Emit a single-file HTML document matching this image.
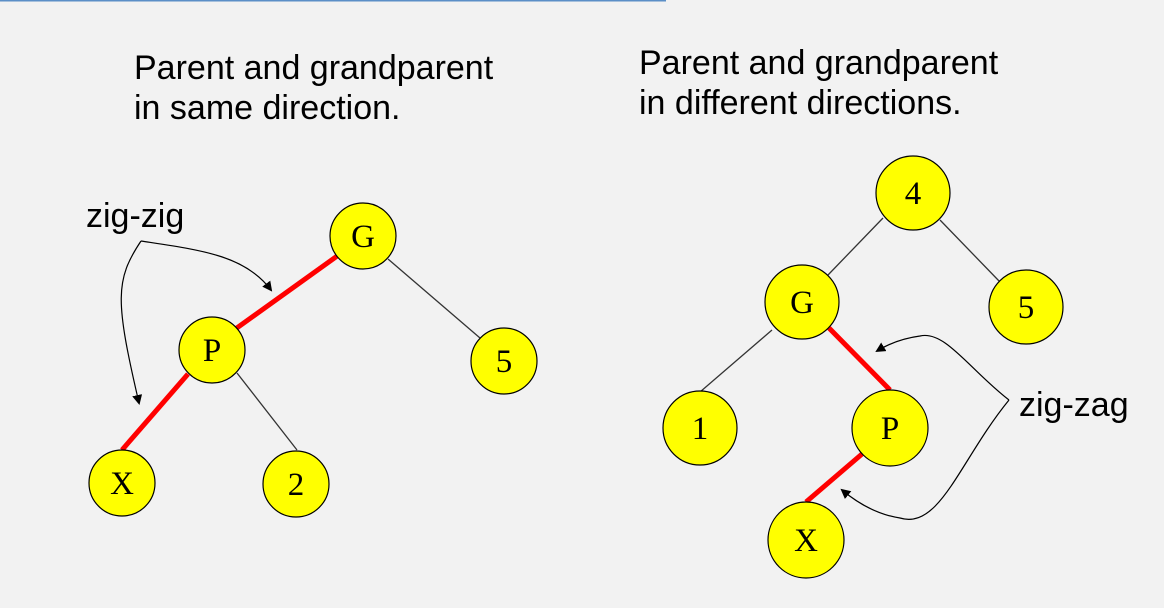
<!DOCTYPE html>
<html><head><style>
html,body{margin:0;padding:0;background:#f2f2f2;}
svg{display:block;}
.t{font-family:"Liberation Sans",Arial,sans-serif;font-size:34px;fill:#000;}
.n{font-family:"Liberation Serif","Times New Roman",serif;font-size:33px;fill:#000;text-anchor:middle;}
circle{fill:#ffff00;stroke:#000;stroke-width:1.2;}
</style></head><body>
<svg width="1164" height="608" viewBox="0 0 1164 608">
<defs><marker id="a" markerWidth="10" markerHeight="10" refX="8" refY="5" orient="auto" markerUnits="userSpaceOnUse"><path d="M0,0 L10,5 L0,10 z" fill="#000"/></marker></defs>
<rect width="1164" height="608" fill="#f2f2f2"/>
<line x1="0" y1="0.5" x2="666" y2="0.5" stroke="#5b8fc7" stroke-width="2"/>
<text class="t" x="134" y="79">Parent and grandparent</text>
<text class="t" x="134" y="119">in same direction.</text>
<text class="t" x="639" y="74">Parent and grandparent</text>
<text class="t" x="639" y="114">in different directions.</text>
<text class="t" x="86" y="227">zig-zig</text>
<text class="t" x="1019" y="416">zig-zag</text>
<!-- left edges -->
<line x1="340" y1="254" x2="234" y2="330" stroke="#f00" stroke-width="5"/>
<line x1="188" y1="374" x2="122" y2="450" stroke="#f00" stroke-width="5"/>
<line x1="237" y1="373" x2="297" y2="450" stroke="#333" stroke-width="1.3"/>
<line x1="388" y1="259" x2="480" y2="338" stroke="#333" stroke-width="1.3"/>
<!-- right edges -->
<line x1="883" y1="218" x2="828" y2="275" stroke="#333" stroke-width="1.3"/>
<line x1="940" y1="220" x2="1000" y2="282" stroke="#333" stroke-width="1.3"/>
<line x1="772" y1="330" x2="700" y2="392" stroke="#333" stroke-width="1.3"/>
<line x1="829" y1="328" x2="890" y2="390" stroke="#f00" stroke-width="5"/>
<line x1="862" y1="454" x2="806" y2="502" stroke="#f00" stroke-width="5"/>
<!-- arrows -->
<path d="M141,241 C200,250 245,255 271,290" fill="none" stroke="#000" stroke-width="1.2" marker-end="url(#a)"/>
<path d="M141,241 C115,280 115,300 139,403" fill="none" stroke="#000" stroke-width="1.2" marker-end="url(#a)"/>
<path d="M1009,400 C970,370 945,330 920,336 C905,338 890,343 877,351" fill="none" stroke="#000" stroke-width="1.2" marker-end="url(#a)"/>
<path d="M1009,400 C960,460 940,530 900,518 C880,515 860,505 842,490" fill="none" stroke="#000" stroke-width="1.2" marker-end="url(#a)"/>
<!-- left nodes -->
<circle cx="363" cy="236" r="33"/><text class="n" x="363" y="247">G</text>
<circle cx="212" cy="350" r="33"/><text class="n" x="212" y="361">P</text>
<circle cx="122" cy="483" r="33"/><text class="n" x="122" y="494">X</text>
<circle cx="296" cy="484" r="33"/><text class="n" x="296" y="495">2</text>
<circle cx="504" cy="361" r="33"/><text class="n" x="504" y="372">5</text>
<!-- right nodes -->
<circle cx="913" cy="193" r="37"/><text class="n" x="913" y="204">4</text>
<circle cx="802" cy="302" r="37"/><text class="n" x="802" y="313">G</text>
<circle cx="1026" cy="307" r="37"/><text class="n" x="1026" y="318">5</text>
<circle cx="700" cy="428" r="37"/><text class="n" x="700" y="439">1</text>
<circle cx="890" cy="428" r="38"/><text class="n" x="890" y="439">P</text>
<circle cx="806" cy="540" r="38"/><text class="n" x="806" y="551">X</text>
</svg>
</body></html>
